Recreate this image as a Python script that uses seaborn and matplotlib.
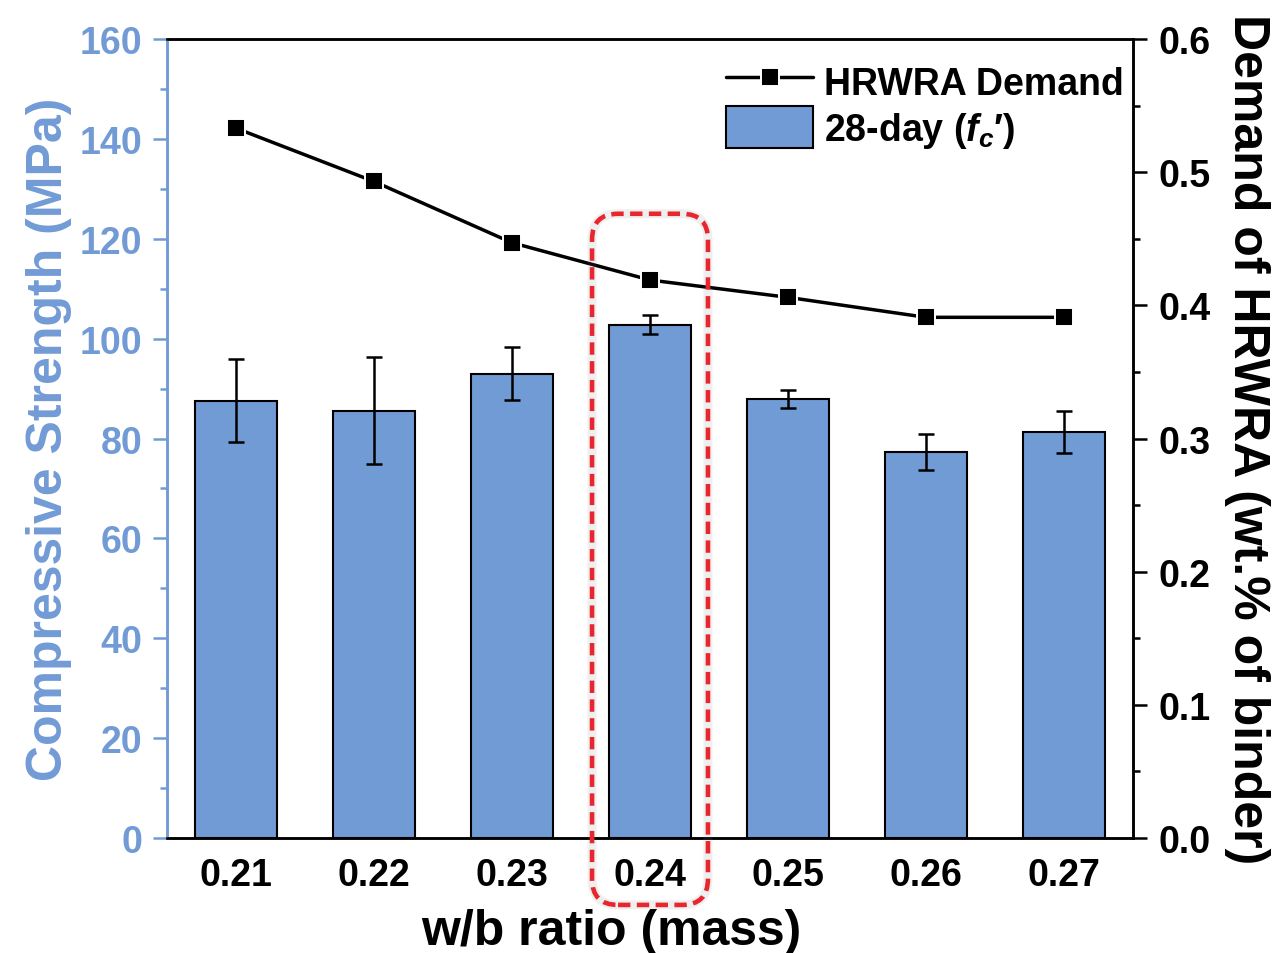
import numpy as np
import pandas as pd
import matplotlib
matplotlib.use("Agg")
import matplotlib.pyplot as plt
import seaborn as sns
from matplotlib.patches import FancyBboxPatch, Patch
from matplotlib.lines import Line2D
from matplotlib.transforms import IdentityTransform
from matplotlib.ticker import MultipleLocator, FormatStrFormatter

# Data
wb_ratio = ["0.21", "0.22", "0.23", "0.24", "0.25", "0.26", "0.27"]
strength_28d = [87.6, 85.6, 93.0, 102.8, 87.9, 77.3, 81.3]
strength_err = [8.4, 10.8, 5.3, 1.9, 1.8, 3.6, 4.3]
hrwra_demand = [0.533, 0.493, 0.447, 0.419, 0.406, 0.391, 0.391]
highlight = "0.24"

BAR_COLOR = "#719bd4"
AXIS_BLUE = "#729bd6"
RED = "#e8262d"

sns.set_style("ticks")
plt.rcParams["font.family"] = ["Liberation Sans", "DejaVu Sans"]
plt.rcParams["font.weight"] = "bold"
plt.rcParams["text.color"] = "black"
plt.rcParams["axes.labelcolor"] = "black"
plt.rcParams["xtick.color"] = "black"
plt.rcParams["ytick.color"] = "black"
plt.rcParams["mathtext.fontset"] = "custom"
plt.rcParams["mathtext.it"] = "Liberation Sans:italic:bold"
plt.rcParams["mathtext.rm"] = "Liberation Sans:bold"

W, H = 1273, 954
fig = plt.figure(figsize=(W / 100, H / 100), dpi=100)
ax = fig.add_axes([167 / W, 115 / H, (1133 - 167) / W, (839 - 40) / H])

df = pd.DataFrame({"wb": wb_ratio, "strength": strength_28d})
sns.barplot(data=df, x="wb", y="strength", color=BAR_COLOR, saturation=1,
            edgecolor="black", linewidth=1.5, width=0.6, errorbar=None, ax=ax)
xpos = np.arange(len(wb_ratio))
ax.errorbar(xpos, strength_28d, yerr=strength_err, fmt="none", ecolor="black",
            elinewidth=1.8, capsize=5.5, capthick=1.8, zorder=3)
ax.set_xlim(-0.5, len(wb_ratio) - 0.5)
ax.set_ylim(0, 160)
ax.yaxis.set_major_locator(MultipleLocator(20))
ax.yaxis.set_minor_locator(MultipleLocator(10))

# Secondary axis: superplasticizer demand
ax2 = ax.twinx()
sns.lineplot(x=xpos, y=hrwra_demand, ax=ax2, color="black", linewidth=2.5,
             marker="s", markersize=13, markeredgecolor="white",
             markeredgewidth=1.4)
ax2.set_xlim(-0.5, len(wb_ratio) - 0.5)
ax2.set_ylim(0, 0.6)
ax2.yaxis.set_major_locator(MultipleLocator(0.1))
ax2.yaxis.set_minor_locator(MultipleLocator(0.05))
ax2.yaxis.set_major_formatter(FormatStrFormatter("%.1f"))

# Spines and ticks
for a in (ax, ax2):
    for s in a.spines.values():
        s.set_visible(True)
        s.set_linewidth(1.8)
        s.set_color("black")
ax.spines["left"].set_color(AXIS_BLUE)
ax2.spines["left"].set_color(AXIS_BLUE)
ax.tick_params(axis="y", which="major", length=10, width=1.8, color=AXIS_BLUE,
               labelcolor=AXIS_BLUE, labelsize=27, pad=8)
ax.tick_params(axis="y", which="minor", length=5, width=1.8, color=AXIS_BLUE)
ax.tick_params(axis="x", length=0, labelsize=27, pad=14, labelcolor="black")
ax2.tick_params(axis="y", which="major", length=10, width=1.8, color="black",
                labelcolor="black", labelsize=27, pad=8)
ax2.tick_params(axis="y", which="minor", length=5, width=1.8, color="black")
for lab in ax.get_xticklabels() + ax.get_yticklabels() + ax2.get_yticklabels():
    lab.set_fontweight("bold")

ax.set_xlabel("w/b ratio (mass)", fontsize=36, fontweight="bold", color="black")
ax.xaxis.set_label_coords((611 - 167) / (1133 - 167), -0.088)
ax.set_ylabel("Compressive Strength (MPa)", fontsize=36, fontweight="bold",
              color=AXIS_BLUE, labelpad=5)
ax2.set_ylabel("Demand of HRWRA (wt.% of binder)", fontsize=36, fontweight="bold",
               color="black", rotation=270, va="bottom", labelpad=10)

# Legend
handles = [
    Line2D([0], [0], color="black", linewidth=2.5, marker="s", markersize=13,
           markeredgecolor="white", markeredgewidth=1.4),
    Patch(facecolor=BAR_COLOR, edgecolor="black", linewidth=1.5),
]
labels = ["HRWRA Demand", "28-day (" + r"$f_c$" + "\u2032)"]
leg = ax2.legend(handles, labels, loc="upper right",
                 bbox_to_anchor=(1.0, 1.0 - 12 / 799), frameon=False,
                 fontsize=27, handlelength=2.3, handleheight=1.35,
                 handletextpad=0.3, labelspacing=0.1, borderaxespad=0.05,
                 borderpad=0.2)
for t in leg.get_texts():
    t.set_color("black")

# Highlight box around the selected w/b ratio
fig.canvas.draw()
hi = wb_ratio.index(highlight)
(x0, y0) = ax.transData.transform((hi - 0.42, -13.4))
(x1, y1) = ax.transData.transform((hi + 0.42, 125))
for lw, col, alpha, ls in [(6.5, "0.5", 0.12, "-"), (3.3, RED, 1.0, (0, (2.7, 1.4)))]:
    box = FancyBboxPatch((x0, y0), x1 - x0, y1 - y0,
                         boxstyle="round,pad=0,rounding_size=26",
                         transform=IdentityTransform(), fill=False,
                         edgecolor=col, linewidth=lw, linestyle=ls,
                         alpha=alpha, clip_on=False, zorder=10)
    fig.add_artist(box)

fig.savefig("out.png", dpi=100)
